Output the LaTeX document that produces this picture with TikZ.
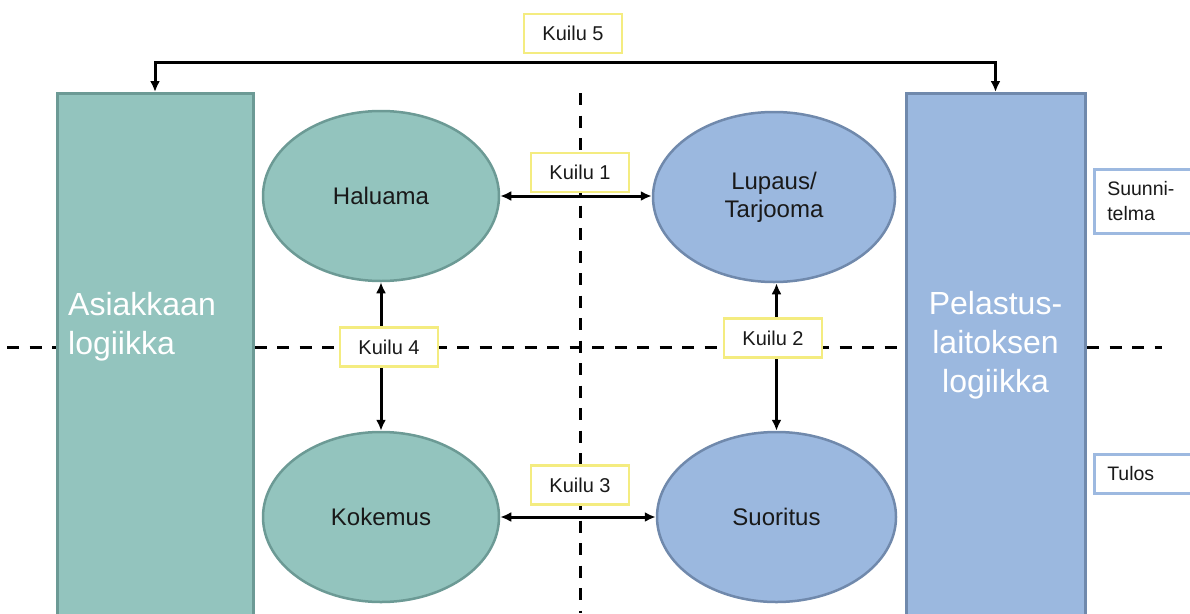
\documentclass[tikz,border=0pt]{standalone}
\usepackage{fontspec}
\setmainfont{Liberation Sans}
\usetikzlibrary{shapes.geometric,arrows.meta,calc}
\definecolor{tealfill}{HTML}{93C4BE}
\definecolor{tealline}{HTML}{6C9A95}
\definecolor{bluefill}{HTML}{9BB8DF}
\definecolor{blueline}{HTML}{7089AC}
\definecolor{gapline}{HTML}{F4EC80}
\definecolor{sideline}{HTML}{9DB9E0}
\tikzset{
  bigbox/.style={draw, line width=3pt, rectangle, inner sep=0pt,
    minimum width=196pt, minimum height=540pt, anchor=north},
  oval/.style={draw, line width=2.5pt, ellipse, inner sep=0pt,
    minimum width=236pt, minimum height=170pt, align=center,
    font=\fontsize{24}{28}\selectfont, text=black!90},
  gapbox/.style={draw=gapline, fill=white, line width=2.5pt, inner sep=0pt,
    minimum width=98pt, minimum height=39pt, font=\fontsize{20}{23}\selectfont,
    text=black!90},
  sidebox/.style={draw=sideline, fill=white, line width=2.5pt, inner sep=0pt,
    anchor=north west, align=left, font=\fontsize{19.5}{25}\selectfont,
    text=black!90},
  biglabel/.style={text=white, inner sep=0pt, font=\fontsize{32}{39}\selectfont},
  axis/.style={line width=3pt, dash pattern=on 12pt off 10.5pt},
  link/.style={line width=3pt, {Latex[length=11pt,width=10pt]}-{Latex[length=11pt,width=10pt]}}
}
\begin{document}
\begin{tikzpicture}[x=1pt, y=-1pt]
\clip (0,0) rectangle (1190,613);
\fill[white] (0,0) rectangle (1190,613);

% dashed axes
\coordinate (hl) at (7,347);
\coordinate (hr) at (1162,347);
\coordinate (vt) at (580,93);
\coordinate (vb) at (580,613);
\draw[axis] (hl) -- (hr);
\draw[axis] (vt) -- (vb);

% the two logic columns
\node[bigbox, fill=tealfill, draw=tealline] (asi) at (155,92) {};
\node[bigbox, fill=bluefill, draw=blueline, minimum width=179pt] (pel) at (995.5,92) {};
\node[biglabel, anchor=west, align=left] (asit) at (68,327) {Asiakkaan\\logiikka};
\node[biglabel, align=center] (pelt) at (995.5,345) {Pelastus-\\laitoksen\\logiikka};

% the four ovals
\node[oval, fill=tealfill, draw=tealline] (hal) at (381,196) {Haluama};
\node[oval, fill=bluefill, draw=blueline, minimum width=242pt] (lup) at (774,197) {Lupaus/\\Tarjooma};
\node[oval, fill=tealfill, draw=tealline] (kok) at (381,517) {Kokemus};
\node[oval, fill=bluefill, draw=blueline, minimum width=239pt] (suo) at (776.5,517) {Suoritus};

% gaps between them
\draw[link] (hal.east) -- (hal.east -| lup.west);
\draw[link] (kok.east) -- (suo.west);
\draw[link] (hal.south) -- (kok.north);
\draw[link] (suo.north) -- (suo.north |- lup.south);
\draw[link] (asi.north) -- ++(0,-30) -| (pel.north);

\node[gapbox] (k1) at (580,172.5) {Kuilu 1};
\node[gapbox] (k2) at (773,338) {Kuilu 2};
\node[gapbox] (k3) at (580,485) {Kuilu 3};
\node[gapbox] (k4) at (389,347) {Kuilu 4};
\node[gapbox] (k5) at (573,33.5) {Kuilu 5};

% side notes
\node[sidebox, minimum width=110pt, minimum height=64pt, text width=100pt,
  inner xsep=13pt] (plan) at (1093,168) {Suunni-\\telma};
\node[sidebox, minimum width=110pt, minimum height=39pt, text width=100pt,
  inner xsep=13pt] (res) at (1093,453) {Tulos};
\end{tikzpicture}
\end{document}
